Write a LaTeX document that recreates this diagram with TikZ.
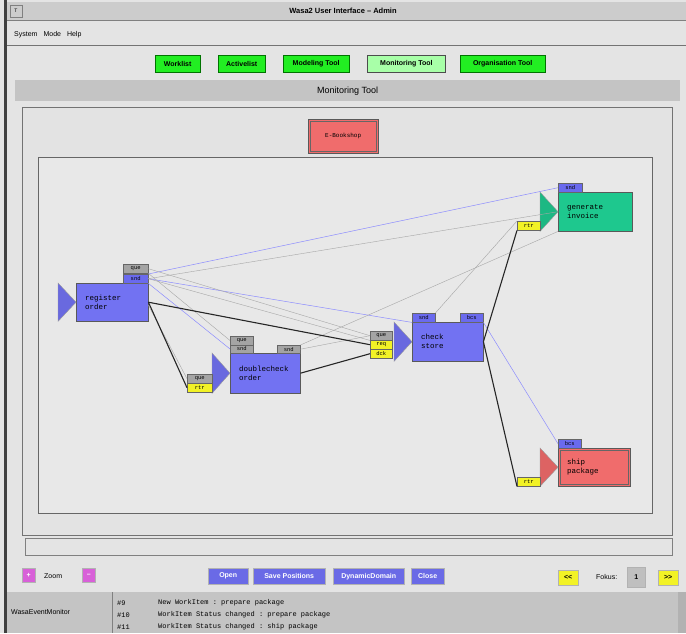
\documentclass[tikz,border=0pt]{standalone}
\usepackage{fontspec}
\setmainfont{Liberation Sans}
\setmonofont{Liberation Mono}
\usetikzlibrary{positioning}

\definecolor{winbg}{HTML}{E4E4E4}
\definecolor{barbg}{HTML}{C4C4C4}
\definecolor{btngreen}{HTML}{22EE22}
\definecolor{btnlight}{HTML}{A8FFA8}
\definecolor{actblue}{HTML}{7272F2}
\definecolor{actgreen}{HTML}{1EC88E}
\definecolor{actred}{HTML}{F06C6C}
\definecolor{portgrey}{HTML}{A4A4A4}
\definecolor{portblue}{HTML}{6A6AEE}
\definecolor{portyellow}{HTML}{F2F226}
\definecolor{btnblue}{HTML}{6A6AE6}
\definecolor{btnpink}{HTML}{D860D8}
\definecolor{linkblue}{HTML}{8C8CFF}

\tikzset{
  tab/.style={fill=btngreen, draw=green!45!black, minimum height=17pt, inner sep=0pt, anchor=north west, font=\bfseries\fontsize{7}{8}\selectfont},
  activity/.style={draw=black!65, anchor=north west, inner xsep=9pt, inner ysep=0pt, align=left, font=\ttfamily\fontsize{7.5}{9}\selectfont},
  port/.style={draw=black!55, anchor=north west, minimum width=23pt, minimum height=9pt, inner sep=0pt, font=\ttfamily\fontsize{5.5}{6}\selectfont},
  entry/.style={draw=black!60, fill=#1},
  rim/.style={draw=black!60, line width=0.6pt},
  flow/.style={line width=1.1pt, black!85},
  trace/.style={black!35, line width=0.4pt},
  link/.style={linkblue, line width=0.5pt},
  ctrl/.style={fill=#1, draw=black!30, minimum height=16pt, inner sep=0pt, anchor=north west, text=white, font=\bfseries\fontsize{7}{8}\selectfont},
  logtext/.style={anchor=west, inner sep=0pt, font=\ttfamily\fontsize{7}{8}\selectfont}
}

\begin{document}
\begin{tikzpicture}[x=1pt,y=1pt]
	\useasboundingbox (0,0) rectangle (686,-633);
	\fill [winbg] (0,0) rectangle (686,-633);
	% window frame and title
	\fill [black!75] (4,0) rectangle (7,-633);
	\fill [black!20] (7,-2) rectangle (686,-20);
	\draw [black!50] (7,-20) -- (686,-20);
	\node [draw=black!50, minimum width=12pt, minimum height=12pt, inner sep=0pt, font=\fontsize{5}{5}\selectfont] (winbtn) at (16,-11) {T};
	\node [font=\bfseries\fontsize{7.5}{8}\selectfont] (title) at (343,-11) {Wasa2 User Interface -- Admin};
	\node [anchor=west, inner sep=0pt, font=\fontsize{7}{8}\selectfont] (menu) at (14,-35) {System\hspace{6pt}Mode\hspace{6pt}Help};
	\draw [black!55] (7,-45) -- (686,-45);
	% tool tabs
	\node [tab, minimum width=45pt] (worklist) at (155,-55) {Worklist};
	\node [tab, minimum width=47pt] (activelist) at (218,-55) {Activelist};
	\node [tab, minimum width=66pt] (modeling) at (283,-55) {Modeling Tool};
	\node [tab, fill=btnlight, draw=black!70, line width=0.8pt, minimum width=78pt] (monitoring) at (367,-55) {Monitoring Tool};
	\node [tab, minimum width=85pt] (organisation) at (460,-55) {Organisation Tool};
	\node [fill=barbg, anchor=north west, minimum width=665pt, minimum height=21pt, inner sep=0pt, font=\fontsize{9}{10}\selectfont] (header) at (15,-80) {Monitoring Tool};
	% panels
	\draw [black!55, fill=black!11] (22,-107) rectangle (672,-535);
	\draw [black!60, fill=black!9] (38,-157) rectangle (652,-513);
	\draw [black!50] (25,-538) rectangle (672,-555);
	\node [activity, fill=actred, inner xsep=0pt, align=center, minimum width=70pt, minimum height=34pt, font=\ttfamily\fontsize{6}{7}\selectfont] (shop) at (308,-119) {E-Bookshop};
	\draw [rim] ([shift={(2.5pt,-2.5pt)}]shop.north west) rectangle ([shift={(-2.5pt,2.5pt)}]shop.south east);

	% activities
	\node [activity, fill=actblue, text width=54pt, minimum height=38pt] (reg) at (76,-283) {register\\order};
	\node [activity, fill=actblue, text width=52pt, minimum height=40pt] (dc) at (230,-353) {doublecheck\\order};
	\node [activity, fill=actblue, text width=53pt, minimum height=39pt] (cs) at (412,-322) {check\\store};
	\node [activity, fill=actgreen, text width=56pt, minimum height=39pt] (gi) at (558,-192) {generate\\invoice};
	\node [activity, fill=actred, text width=54pt, minimum height=38pt] (sp) at (558,-448) {ship\\package};
	\draw [rim] ([shift={(2.5pt,-2.5pt)}]sp.north west) rectangle ([shift={(-2.5pt,2.5pt)}]sp.south east);
	\foreach \a/\c in {reg/actblue, dc/actblue, cs/actblue, gi/actgreen, sp/actred}
		\filldraw [fill=\c!92!black, draw=black!40] ([xshift=-18pt]\a.north west) -- (\a.west) -- ([xshift=-18pt]\a.south west) -- cycle;

	% ports
	\node [port, entry=portgrey, minimum width=25pt] (reg-que) at (123,-264) {que};
	\node [port, entry=portblue, minimum width=25pt] (reg-snd) at (123,-274) {snd};
	\node [port, entry=portgrey, minimum height=8.5pt] (dc-que) at (230,-336) {que};
	\node [port, entry=portgrey, minimum height=8.5pt] (dc-snd) at (230,-344.5) {snd};
	\node [port, entry=portgrey, minimum height=8pt] (dc-out) at (277,-345) {snd};
	\node [port, entry=portgrey, minimum width=25pt] (dc-wait) at (187,-374) {que};
	\node [port, entry=portyellow, minimum width=25pt] (dc-rtr) at (187,-383) {rtr};
	\node [port, entry=portblue] (cs-snd) at (412,-313) {snd};
	\node [port, entry=portblue] (cs-bcs) at (460,-313) {bcs};
	\node [port, entry=portgrey, minimum width=22pt] (cs-que) at (370,-331) {que};
	\node [port, entry=portyellow, minimum width=22pt] (cs-req) at (370,-340) {req};
	\node [port, entry=portyellow, minimum width=22pt] (cs-dck) at (370,-349) {dck};
	\node [port, entry=portblue, minimum width=24pt] (gi-snd) at (558,-183) {snd};
	\node [port, entry=portyellow] (gi-rtr) at (517,-221) {rtr};
	\node [port, entry=portblue, minimum width=23pt] (sp-bcs) at (558,-439) {bcs};
	\node [port, entry=portyellow] (sp-rtr) at (517,-477) {rtr};

	% traces
	\draw [link] (reg-snd.north east) -- (gi-snd.west);
	\draw [link] (reg-snd.east) -- (cs-snd.south west);
	\draw [link] (reg-snd.south east) -- (dc-snd.west);
	\draw [link] (cs-bcs.south east) -- (sp-bcs.west);
	\draw [trace] (reg-que.east) -- (cs-que.west);
	\draw [trace] (reg-snd.east) -- (cs-que.south west);
	\draw [trace] (reg-que.south east) -- (dc-que.west);
	\draw [trace] ([yshift=-3pt]reg.east) -- (dc-wait.west);
	\draw [trace] (reg-snd.east) -- (gi.west);
	\draw [trace] (dc-out.north east) -- (gi.south west);
	\draw [trace] (dc-out.east) -- (cs-que.west);
	\draw [trace] (cs-snd.north east) -- (gi-rtr.north west);
	% flows
	\draw [flow] (reg.east) -- (cs-req.west);
	\draw [flow] (reg.east) -- (dc-rtr.west);
	\draw [flow] (dc.east) -- (cs-dck.west);
	\draw [flow] (cs.east) -- (gi-rtr.south west);
	\draw [flow] (cs.east) -- (sp-rtr.south west);

	% controls
	\node [ctrl=btnpink, minimum width=13pt, minimum height=14pt] (zoomin) at (22,-568) {+};
	\node [anchor=west, inner sep=0pt, font=\fontsize{7}{8}\selectfont] (zoomlbl) at (44,-576) {Zoom};
	\node [ctrl=btnpink, minimum width=13pt, minimum height=14pt] (zoomout) at (82,-568) {--};
	\node [ctrl=btnblue, minimum width=40pt] (open) at (208,-568) {Open};
	\node [ctrl=btnblue, minimum width=72pt] (save) at (253,-568) {Save Positions};
	\node [ctrl=btnblue, minimum width=71pt] (dyn) at (333,-568) {DynamicDomain};
	\node [ctrl=btnblue, minimum width=33pt] (close) at (411,-568) {Close};
	\node [ctrl=portyellow, text=black, minimum width=20pt, minimum height=15pt] (prev) at (558,-570) {{<}{<}};
	\node [anchor=west, inner sep=0pt, font=\fontsize{7}{8}\selectfont] (fokus) at (596,-577) {Fokus:};
	\node [ctrl=black!25, text=black, minimum width=18pt, minimum height=20pt] (fokusval) at (627,-567) {1};
	\node [ctrl=portyellow, text=black, minimum width=20pt, minimum height=15pt] (next) at (658,-570) {{>}{>}};

	% event monitor
	\fill [barbg] (7,-592) rectangle (682,-633);
	\fill [black!30] (678,-592) rectangle (686,-633);
	\draw [black!50] (112,-592) -- (112,-633);
	\node [anchor=west, inner sep=0pt, font=\fontsize{7}{8}\selectfont] (monitor) at (11,-612) {WasaEventMonitor};
	\node [logtext] (n9) at (117,-603) {\#9};
	\node [logtext] (n10) at (117,-615) {\#10};
	\node [logtext] (n11) at (117,-627) {\#11};
	\node [logtext] (e9) at (158,-603) {New WorkItem : prepare package};
	\node [logtext] (e10) at (158,-615) {WorkItem Status changed : prepare package};
	\node [logtext] (e11) at (158,-627) {WorkItem Status changed : ship package};
\end{tikzpicture}
\end{document}
